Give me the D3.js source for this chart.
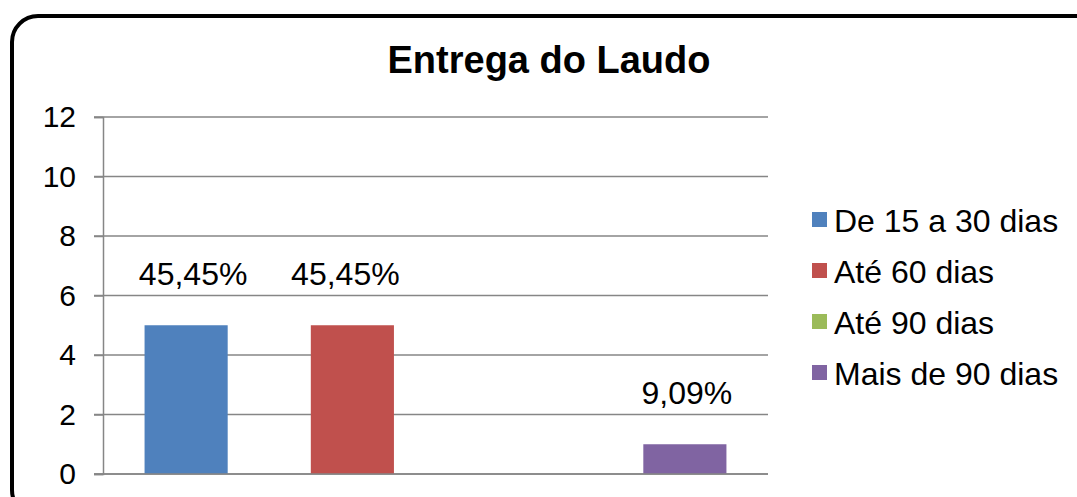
<!DOCTYPE html>
<html>
<head>
<meta charset="utf-8">
<script src="https://cdn.jsdelivr.net/npm/d3@7"></script>
<style>
    html, body { margin: 0; padding: 0; background: #fff; }
    svg text { font-family: "Liberation Sans", Arial, sans-serif; fill: #000; }
</style>
</head>
<body>
<svg id="chart" width="1077" height="497"></svg>
<script>
    var title = 'Entrega do Laudo';
    var series = ['De 15 a 30 dias', 'Até 60 dias', 'Até 90 dias', 'Mais de 90 dias'];
    var values = [5, 5, 0, 1];
    var labels = ['45,45%', '45,45%', '', '9,09%'];
    var colors = ['#4f81bd', '#c0504d', '#9bbb59', '#8064a2'];
    var yTicks = [0, 2, 4, 6, 8, 10, 12];
    // small horizontal nudges of the data labels, as placed in the original
    var labelShift = [7, -7, 0, 2];

    var svg = d3.select('#chart');

    // outer frame
    svg.append('rect')
        .attr('x', 12).attr('y', 16)
        .attr('width', 1090).attr('height', 500)
        .attr('rx', 26).attr('ry', 26)
        .attr('fill', '#fff')
        .attr('stroke', '#000')
        .attr('stroke-width', 4);

    svg.append('text')
        .attr('x', 549).attr('y', 73)
        .attr('text-anchor', 'middle')
        .style('font-size', '38px')
        .style('font-weight', 'bold')
        .text(title);

    var x = d3.scaleBand().domain(series).range([103, 768]).paddingInner(0).paddingOuter(0);
    var y = d3.scaleLinear().domain([0, 12]).range([474, 117]);

    // gridlines
    svg.append('g').selectAll('line').data(yTicks)
        .enter().append('line')
        .attr('x1', 94).attr('x2', 768)
        .attr('y1', function(d) { return y(d); })
        .attr('y2', function(d) { return y(d); })
        .attr('stroke', '#868686')
        .attr('stroke-width', 1.5);

    var yAxis = d3.axisLeft(y).tickValues(yTicks).tickSize(9).tickPadding(18);
    var gy = svg.append('g').attr('transform', 'translate(103,0)').call(yAxis);
    gy.select('.domain').attr('stroke', '#868686').attr('stroke-width', 1.5);
    gy.selectAll('.tick line').attr('stroke', '#868686').attr('stroke-width', 1.5);
    gy.selectAll('.tick text')
        .style('font-size', '30px')
        .style('font-family', '"Liberation Sans", Arial, sans-serif')
        .attr('fill', '#000');

    var bw = x.bandwidth() / 2;
    svg.append('g').selectAll('rect').data(values)
        .enter().append('rect')
        .attr('x', function(d, i) { return x(series[i]) + x.bandwidth() / 4; })
        .attr('y', function(d) { return y(d); })
        .attr('width', bw)
        .attr('height', function(d) { return y(0) - y(d); })
        .attr('fill', function(d, i) { return colors[i]; });

    // redraw zero line on top of bars
    svg.append('line')
        .attr('x1', 94).attr('x2', 768)
        .attr('y1', y(0)).attr('y2', y(0))
        .attr('stroke', '#868686').attr('stroke-width', 1.5);

    svg.append('g').selectAll('text').data(values)
        .enter().append('text')
        .attr('x', function(d, i) { return x(series[i]) + x.bandwidth() / 2 + labelShift[i]; })
        .attr('y', function(d) { return y(d) - 40; })
        .attr('text-anchor', 'middle')
        .style('font-size', '32px')
        .text(function(d, i) { return labels[i]; });

    // legend
    var legend = svg.append('g').selectAll('g').data(series)
        .enter().append('g')
        .attr('transform', function(d, i) { return 'translate(812,' + (220 + i * 51) + ')'; });
    legend.append('rect')
        .attr('x', 0).attr('y', -8)
        .attr('width', 15).attr('height', 15)
        .attr('fill', function(d, i) { return colors[i]; });
    legend.append('text')
        .attr('x', 22).attr('y', 12)
        .style('font-size', '32px')
        .text(function(d) { return d; });
</script>
</body>
</html>
